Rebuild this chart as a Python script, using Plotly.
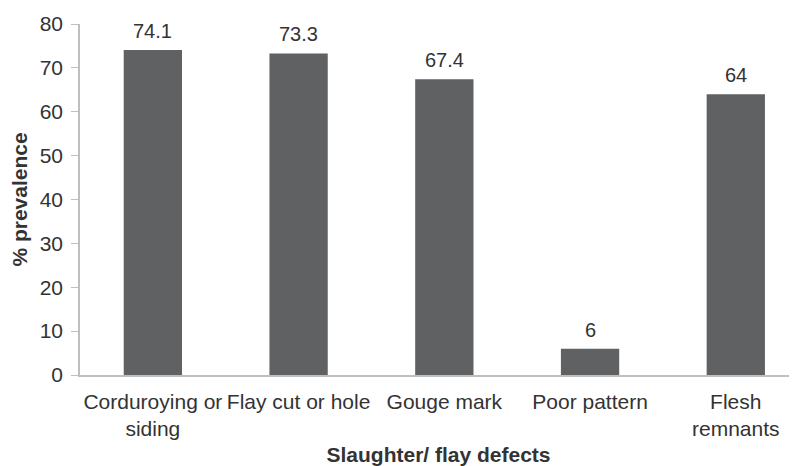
import plotly.graph_objects as go

categories = ["Corduroying or<br>siding", "Flay cut or hole", "Gouge mark", "Poor pattern", "Flesh<br>remnants"]
values = [74.1, 73.3, 67.4, 6, 64]
labels = ["74.1", "73.3", "67.4", "6", "64"]
y_ticks = [0, 10, 20, 30, 40, 50, 60, 70, 80]

font_family = "Liberation Sans, Arial, sans-serif"
text_color = "#333333"
x_pos = list(range(len(categories)))

fig = go.Figure(
    go.Bar(
        x=x_pos,
        y=values,
        marker=dict(color="#5f6163", line=dict(width=0)),
        width=0.4,
    )
)

for xi, yi, lab in zip(x_pos, values, labels):
    fig.add_annotation(
        x=xi, y=yi, text=lab, showarrow=False,
        yanchor="bottom", yshift=6,
        font=dict(size=20, color=text_color, family=font_family),
    )

# page body has an 8px margin, so the figure is 8px smaller and margins compensate
fig.update_layout(
    width=789,
    height=458,
    margin=dict(l=72, r=0, t=16, b=91),
    paper_bgcolor="white",
    plot_bgcolor="white",
    showlegend=False,
    font=dict(family=font_family, size=20, color=text_color),
)

fig.update_xaxes(
    tickmode="array",
    tickvals=x_pos,
    ticktext=categories,
    range=[-0.5, 4.42],
    showline=True,
    linecolor="#bfbfbf",
    linewidth=1.5,
    ticks="",
    ticklabelstandoff=7,
    showgrid=False,
    zeroline=False,
    tickfont=dict(size=21, color=text_color),
    title=dict(text="<b>Slaughter/ flay defects</b>", font=dict(size=21, color=text_color), standoff=10),
)

fig.update_yaxes(
    range=[0, 80],
    tickmode="array",
    tickvals=y_ticks,
    showline=True,
    linecolor="#bfbfbf",
    linewidth=1.5,
    ticks="outside",
    ticklen=7,
    tickcolor="#bfbfbf",
    ticklabelstandoff=4,
    showgrid=False,
    zeroline=False,
    tickfont=dict(size=21, color=text_color),
    title=dict(text="<b>% prevalence</b>", font=dict(size=21, color=text_color), standoff=6),
)

fig.write_html("out.html")
